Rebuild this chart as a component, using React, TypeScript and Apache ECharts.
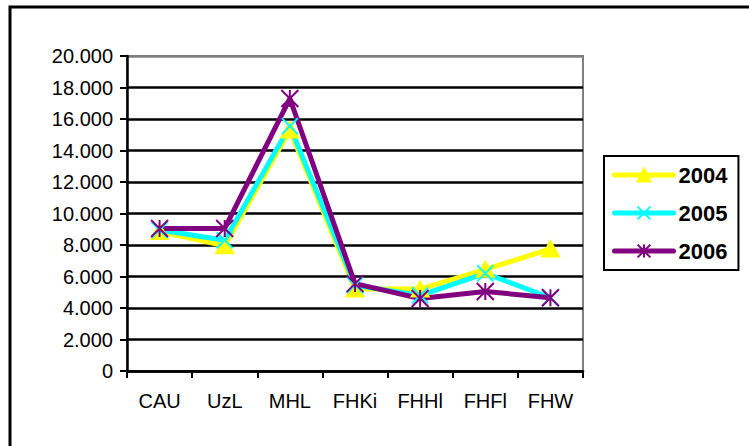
import React, { useEffect, useRef } from "react";
import * as echarts from "echarts";

// Hochschulen (Kategorien der x-Achse)
const categories = ["CAU", "UzL", "MHL", "FHKi", "FHHl", "FHFl", "FHW"];

// Werte je Jahrgang
const values2004 = [8850, 7950, 15300, 5200, 5200, 6450, 7750];
const values2005 = [8950, 8300, 15550, 5450, 4800, 6200, 4650];
const values2006 = [9050, 9050, 17300, 5550, 4600, 5050, 4650];

const seriesNames = ["2004", "2005", "2006"];
const seriesColors = ["#FFFF00", "#00FFFF", "#800080"];

// y-Achse: 0 bis 20.000 in Schritten von 2.000
const yMin = 0;
const yMax = 20000;
const yStep = 2000;

const crossSymbol = "path://M0,0L10,10M10,0L0,10";
const starSymbol = "path://M0,0L10,10M10,0L0,10M5,0L5,10";

const formatThousands = (v: number) =>
  String(v).replace(/\B(?=(\d{3})+(?!\d))/g, ".");

export default function App() {
  const ref = useRef<HTMLDivElement>(null);

  useEffect(() => {
    if (!ref.current) return;
    const chart = echarts.init(ref.current, undefined, { renderer: "svg" });

    const tickCount = Math.round((yMax - yMin) / yStep) + 1;
    const splitColors = Array.from({ length: tickCount }, (_, i) =>
      i === tickCount - 1 ? "#808080" : "#000000"
    );

    const makeSeries = (
      name: string,
      data: number[],
      color: string,
      symbol: string,
      symbolSize: number | number[]
    ) => ({
      name,
      type: "line",
      data,
      symbol,
      symbolSize,
      showSymbol: true,
      lineStyle: { color, width: 5 },
      itemStyle: { color, borderColor: color, borderWidth: 2 },
      emphasis: { disabled: true },
    });

    chart.setOption({
      animation: false,
      backgroundColor: "#ffffff",
      textStyle: { fontFamily: "Liberation Sans, Arial, sans-serif" },
      graphic: [
        {
          type: "rect",
          shape: { x: 10, y: 7, width: 800, height: 500 },
          style: { fill: "none", stroke: "#000000", lineWidth: 3 },
          silent: true,
        },
      ],
      grid: {
        left: 127,
        top: 56,
        width: 456,
        height: 315,
        show: true,
        borderColor: "#808080",
        borderWidth: 2,
        backgroundColor: "transparent",
      },
      legend: {
        orient: "vertical",
        left: 604,
        top: 156,
        padding: [8, 11, 8, 8],
        itemGap: 16,
        itemWidth: 59,
        itemHeight: 16,
        borderColor: "#000000",
        borderWidth: 2,
        backgroundColor: "#ffffff",
        data: seriesNames,
        lineStyle: { width: 5, cap: "round" },
        textStyle: {
          fontSize: 22,
          fontWeight: "bold",
          color: "#000000",
          fontFamily: "Liberation Sans, Arial, sans-serif",
        },
      },
      xAxis: {
        type: "category",
        data: categories,
        boundaryGap: true,
        axisLine: { show: true, lineStyle: { color: "#000000", width: 2.5 } },
        axisTick: {
          show: true,
          length: 7,
          alignWithLabel: false,
          lineStyle: { color: "#000000", width: 2 },
        },
        axisLabel: {
          fontSize: 20,
          color: "#000000",
          margin: 20,
          interval: 0,
        },
        splitLine: { show: false },
      },
      yAxis: {
        type: "value",
        min: yMin,
        max: yMax,
        interval: yStep,
        axisLine: { show: true, lineStyle: { color: "#000000", width: 2.5 } },
        axisTick: { show: true, length: 7, lineStyle: { color: "#000000", width: 2 } },
        axisLabel: {
          fontSize: 20,
          color: "#000000",
          margin: 14,
          formatter: (v: number) => formatThousands(v),
        },
        splitLine: { show: true, lineStyle: { color: splitColors, width: 2.5 } },
      },
      series: [
        makeSeries(seriesNames[0], values2004, seriesColors[0], "triangle", [17, 15]),
        makeSeries(seriesNames[1], values2005, seriesColors[1], crossSymbol, 16),
        makeSeries(seriesNames[2], values2006, seriesColors[2], starSymbol, 17),
      ],
    });

    return () => chart.dispose();
  }, []);

  return (
    <div
      ref={ref}
      style={{ position: "absolute", left: 0, top: 0, width: 749, height: 446 }}
    />
  );
}
